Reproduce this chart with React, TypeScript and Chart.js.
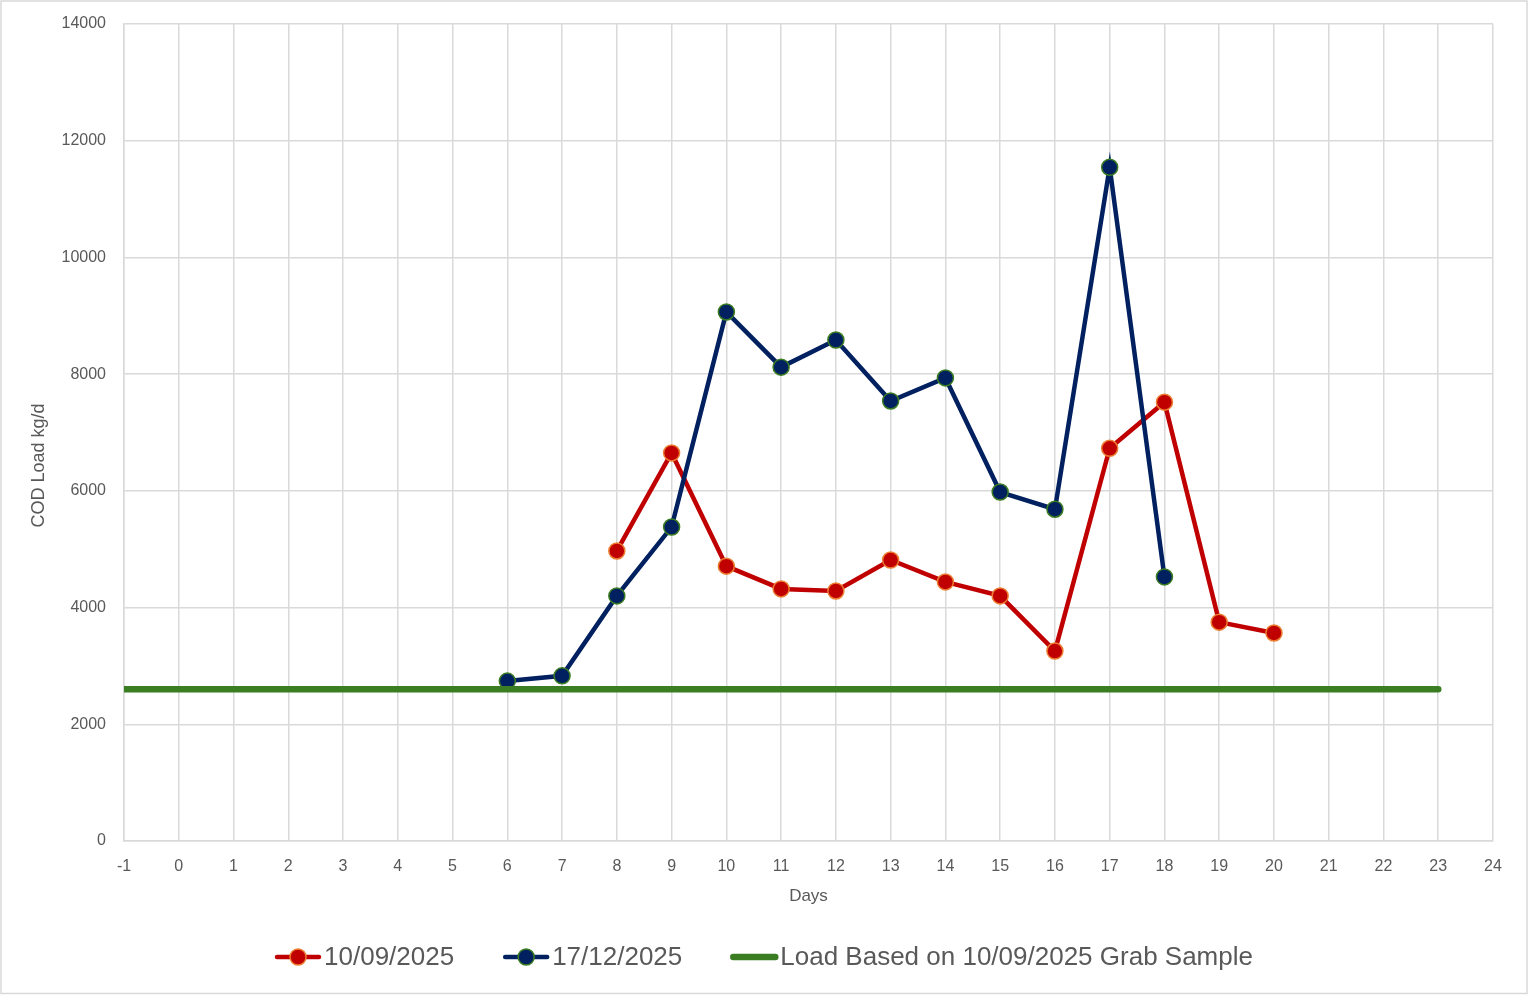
import React, { useEffect, useRef } from "react";
import { Chart, registerables } from "chart.js";

Chart.register(...registerables);

// ---- data ----
const redLabel = "10/09/2025";
const redDays = [8, 9, 10, 11, 12, 13, 14, 15, 16, 17, 18, 19, 20];
const redValues = [4970, 6650, 4710, 4320, 4285, 4815, 4440, 4200, 3255, 6730, 7520, 3750, 3565];

const blueLabel = "17/12/2025";
const blueDays = [6, 7, 8, 9, 10, 11, 12, 13, 14, 15, 16, 17, 18];
const blueValues = [2740, 2830, 4200, 5380, 9065, 8120, 8585, 7540, 7935, 5980, 5685, 11545, 4525];

const greenLabel = "Load Based on 10/09/2025 Grab Sample";
const greenDays = [-1, 23];
const greenValues = [2600, 2600];

const xMin = -1;
const xMax = 24;
const yMin = 0;
const yMax = 14000;
const yStep = 2000;
const xTitle = "Days";
const yTitle = "COD Load kg/d";

const RED = "#C00000";
const RED_EDGE = "#ED7D31";
const BLUE = "#002060";
const BLUE_EDGE = "#3A7D22";
const GREEN = "#3B7D23";
const GRID = "#D9D9D9";
const TEXT = "#595959";
const FONT = '"Liberation Sans", Arial, sans-serif';

const W = 1528;
const H = 995;

const toXY = (xs: number[], ys: number[]) => xs.map((x, i) => ({ x, y: ys[i] }));

const borderPlugin = {
  id: "outerBorder",
  afterDraw(chart: any) {
    const ctx = chart.ctx;
    ctx.save();
    ctx.strokeStyle = GRID;
    ctx.lineWidth = 1.5;
    ctx.strokeRect(1, 1, chart.width - 2, chart.height - 2.5);
    ctx.restore();
  },
};

// y-axis title, placed like the original (slightly below the plot's vertical centre)
const yTitlePlugin = {
  id: "yTitleText",
  afterDraw(chart: any) {
    const ctx = chart.ctx;
    const area = chart.chartArea;
    ctx.save();
    ctx.font = `18px ${FONT}`;
    ctx.fillStyle = TEXT;
    ctx.textAlign = "center";
    ctx.textBaseline = "middle";
    ctx.translate(39, (area.top + area.bottom) / 2 + 33);
    ctx.rotate(-Math.PI / 2);
    ctx.fillText(yTitle, 0, 0);
    ctx.restore();
  },
};

const legendPlugin = {
  id: "customLegend",
  afterDraw(chart: any) {
    const ctx = chart.ctx;
    ctx.save();
    ctx.font = `26px ${FONT}`;
    ctx.textBaseline = "middle";
    const datasets = chart.data.datasets;
    const markerW = 46;
    const gap = 3;
    const spacing = 49;
    const widths = datasets.map((d: any) => markerW + gap + ctx.measureText(d.label).width);
    const total = widths.reduce((a: number, b: number) => a + b, 0) + spacing * (datasets.length - 1);
    let x = (chart.width - total) / 2;
    const y = 957;
    datasets.forEach((d: any, i: number) => {
      ctx.lineCap = "round";
      ctx.strokeStyle = d.borderColor;
      ctx.lineWidth = d.borderWidth;
      ctx.beginPath();
      ctx.moveTo(x + 2, y);
      ctx.lineTo(x + markerW - 2, y);
      ctx.stroke();
      if (d.pointRadius > 0) {
        ctx.beginPath();
        ctx.arc(x + markerW / 2, y, d.pointRadius, 0, Math.PI * 2);
        ctx.fillStyle = d.pointBackgroundColor;
        ctx.fill();
        ctx.lineWidth = d.pointBorderWidth;
        ctx.strokeStyle = d.pointBorderColor;
        ctx.stroke();
      }
      ctx.fillStyle = TEXT;
      ctx.textAlign = "left";
      ctx.fillText(d.label, x + markerW + gap, y + 1);
      x += widths[i] + spacing;
    });
    ctx.restore();
  },
};

export default function App() {
  const ref = useRef<HTMLCanvasElement | null>(null);

  useEffect(() => {
    document.body.style.margin = "0";
    const canvas = ref.current;
    if (!canvas) return;
    const chart = new Chart(canvas, {
      type: "line",
      data: {
        datasets: [
          {
            label: redLabel,
            data: toXY(redDays, redValues),
            borderColor: RED,
            backgroundColor: RED,
            borderWidth: 4.5,
            pointRadius: 8,
            pointHoverRadius: 8,
            pointBackgroundColor: RED,
            pointBorderColor: RED_EDGE,
            pointBorderWidth: 1.5,
            tension: 0,
            order: 2,
          },
          {
            label: blueLabel,
            data: toXY(blueDays, blueValues),
            borderColor: BLUE,
            backgroundColor: BLUE,
            borderWidth: 4.5,
            pointRadius: 8,
            pointHoverRadius: 8,
            pointBackgroundColor: BLUE,
            pointBorderColor: BLUE_EDGE,
            pointBorderWidth: 1.5,
            tension: 0,
            order: 1,
          },
          {
            label: greenLabel,
            data: toXY(greenDays, greenValues),
            borderColor: GREEN,
            backgroundColor: GREEN,
            borderWidth: 6.5,
            borderCapStyle: "round",
            pointRadius: 0,
            pointHoverRadius: 0,
            tension: 0,
            order: 0,
          },
        ] as any,
      },
      options: {
        animation: false,
        responsive: false,
        devicePixelRatio: 1,
        layout: { padding: { left: 0, top: 24, right: W - 1493, bottom: H - 908 } },
        plugins: {
          legend: { display: false },
          tooltip: { enabled: false },
        },
        scales: {
          x: {
            type: "linear",
            min: xMin,
            max: xMax,
            ticks: {
              stepSize: 1,
              color: TEXT,
              font: { family: FONT, size: 16 },
              padding: 16,
              maxRotation: 0,
              callback: (v: any) => String(v),
            },
            grid: { color: GRID, lineWidth: 1.5, drawTicks: false },
            border: { color: GRID, width: 1.5 },
            title: {
              display: true,
              text: xTitle,
              color: TEXT,
              font: { family: FONT, size: 17 },
              padding: { top: 0, bottom: 1 },
            },
            afterFit(scale: any) {
              scale.height = 908 - 841;
              scale.paddingLeft = 0;
              scale.paddingRight = 0;
            },
          },
          y: {
            type: "linear",
            min: yMin,
            max: yMax,
            ticks: {
              stepSize: yStep,
              color: TEXT,
              font: { family: FONT, size: 16 },
              padding: 18,
              callback: (v: any) => String(v),
            },
            grid: { color: GRID, lineWidth: 1.5, drawTicks: false },
            border: { color: GRID, width: 1.5 },
            title: { display: false },
            afterFit(scale: any) {
              scale.width = 124;
              scale.paddingTop = 0;
              scale.paddingBottom = 0;
            },
          },
        },
      } as any,
      plugins: [legendPlugin, yTitlePlugin, borderPlugin],
    });
    return () => chart.destroy();
  }, []);

  return (
    <div style={{ position: "absolute", left: 0, top: 0, width: W, height: H, background: "#fff" }}>
      <canvas ref={ref} width={W} height={H} style={{ display: "block", width: W, height: H }} />
    </div>
  );
}
